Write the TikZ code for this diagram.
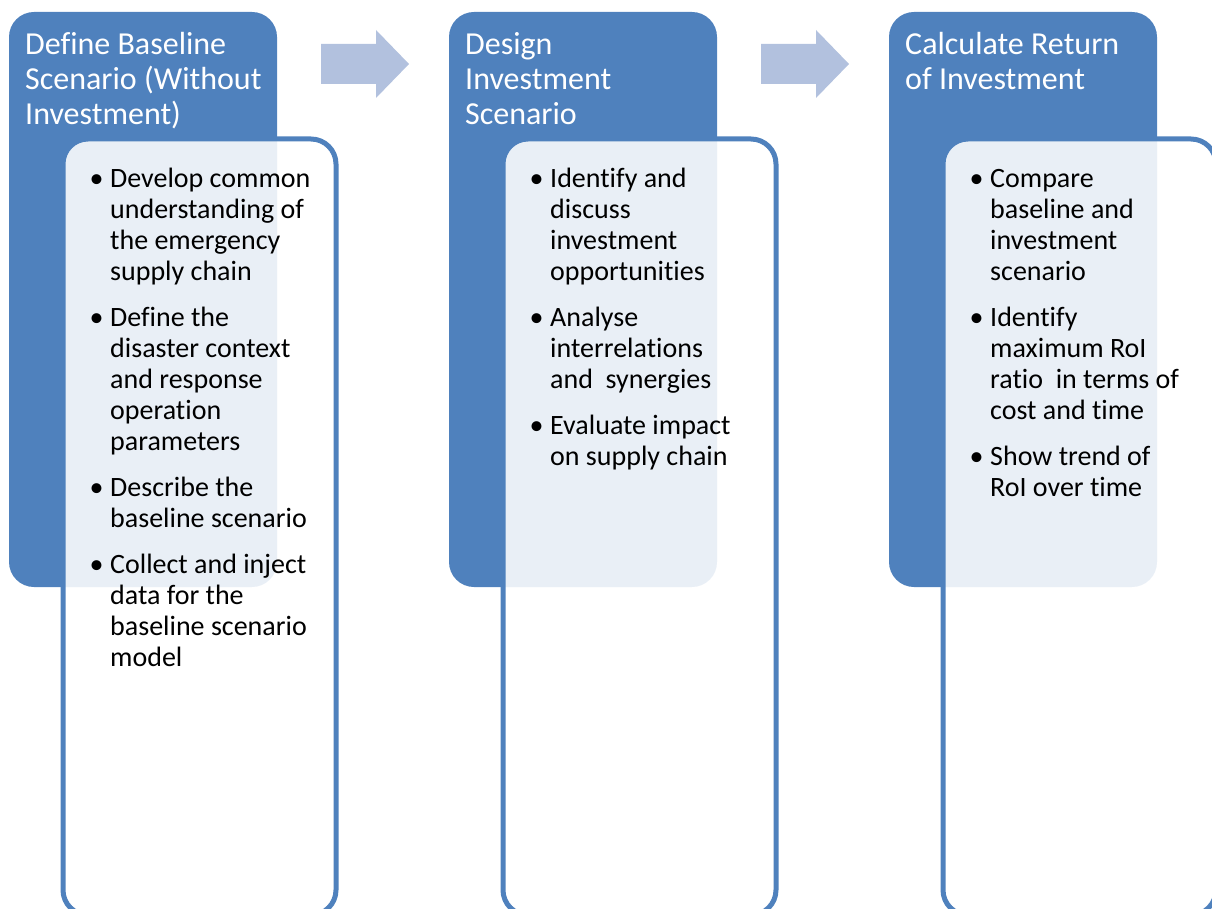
\documentclass[tikz,border=0pt]{standalone}
\usepackage{fontspec}
\setmainfont{Carlito}[Ligatures=CommonOff]
\definecolor{stepblue}{HTML}{4F81BD}
\definecolor{arrowblue}{HTML}{B2C1DE}
\newcommand\rows[1]{\vtop{\halign{##\hfil\cr#1\crcr}}}
\newcommand\bul{\llap{\makebox[27pt]{\textbullet}}}
\newcommand\gap{\noalign{\vskip15pt}}
\tikzset{
  head/.style={fill=stepblue, draw=none, rounded corners=25pt, minimum width=268pt, minimum height=575pt, inner sep=0pt},
  body/.style={draw=stepblue, line width=5pt, fill=white, fill opacity=0.88, rounded corners=25pt, minimum width=273pt, minimum height=776pt, inner sep=0pt},
  titletext/.style={anchor=base west, inner sep=0pt, text=white, font=\fontsize{32}{35}\selectfont},
  itemtext/.style={anchor=base west, inner sep=0pt, text=black, font=\fontsize{28}{31}\selectfont},
  flow/.style={fill=arrowblue, draw=none}
}
\begin{document}
\begin{tikzpicture}[x=1pt,y=-1pt]
\useasboundingbox (0,0) rectangle (1212,909);
\clip (0,0) rectangle (1212,909);
% column boxes
\node[head] (h1) at (143,299.5) {};
\node[head] (h2) at (583,299.5) {};
\node[head] (h3) at (1023,299.5) {};
\node[body] (w1) at (199.5,527) {};
\node[body] (w2) at (639.5,527) {};
\node[body] (w3) at (1079.5,527) {};
% flow arrows
\fill[flow] (321,44) -- (376,44) -- (376,30) -- (409,64) -- (376,98) -- (376,84) -- (321,84) -- cycle;
\fill[flow] (761,44) -- (816,44) -- (816,30) -- (849,64) -- (816,98) -- (816,84) -- (761,84) -- cycle;
% titles
\node[titletext] (t1) at (25,54.5) {\rows{Define Baseline\cr Scenario (Without\cr Investment)}};
\node[titletext] (t2) at (465,54.5) {\rows{Design\cr Investment\cr Scenario}};
\node[titletext] (t3) at (905,54.5) {\rows{Calculate Return\cr of Investment}};
% bullet lists
\node[itemtext] (b1) at (110,188) {\rows{%
\bul Develop common\cr understanding of\cr the emergency\cr supply chain\cr\gap
\bul Define the\cr disaster context\cr and response\cr operation\cr parameters\cr\gap
\bul Describe the\cr baseline scenario\cr\gap
\bul Collect and inject\cr data for the\cr baseline scenario\cr model}};
\node[itemtext] (b2) at (550,188) {\rows{%
\bul Identify and\cr discuss\cr investment\cr opportunities\cr\gap
\bul Analyse\cr interrelations\cr and~ synergies\cr\gap
\bul Evaluate impact\cr on supply chain}};
\node[itemtext] (b3) at (990,188) {\rows{%
\bul Compare\cr baseline and\cr investment\cr scenario\cr\gap
\bul Identify\cr maximum RoI\cr ratio~ in terms of\cr cost and time\cr\gap
\bul Show trend of\cr RoI over time}};
\end{tikzpicture}
\end{document}
